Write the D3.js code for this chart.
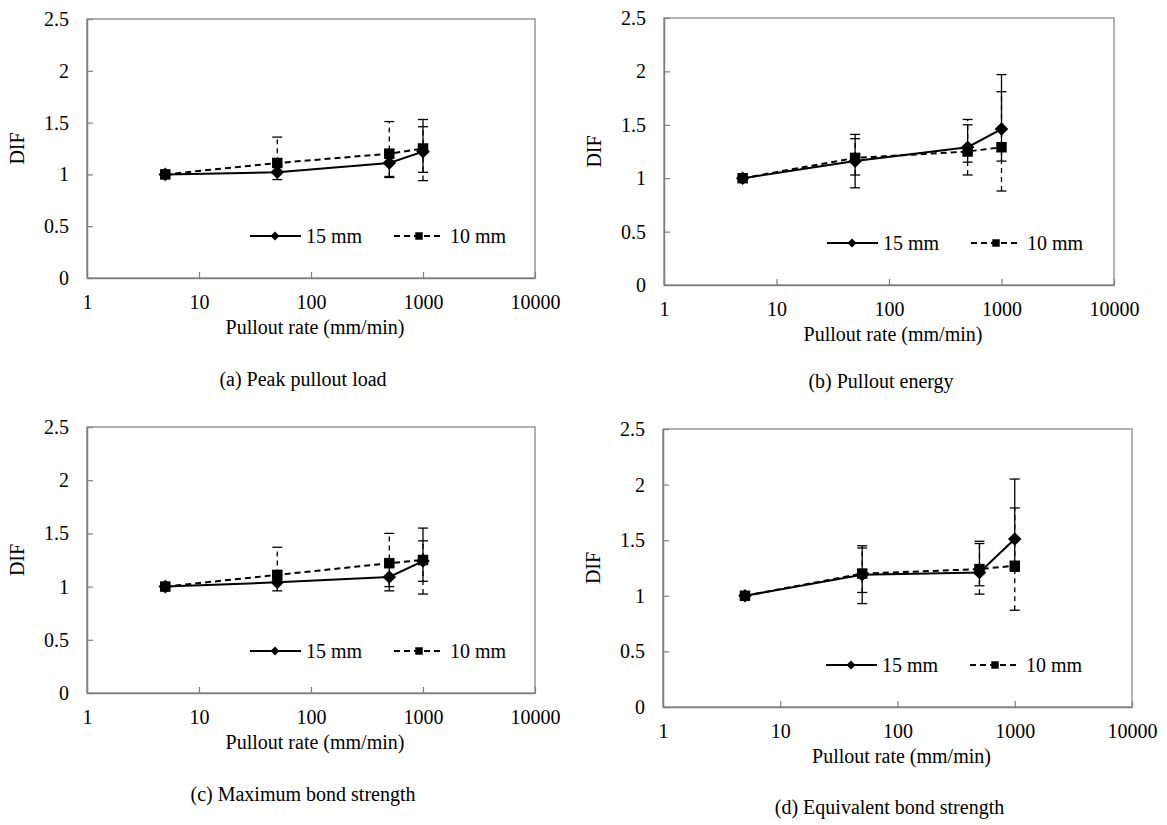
<!DOCTYPE html>
<html>
<head>
<meta charset="utf-8">
<script src="https://cdn.jsdelivr.net/npm/d3@7"></script>
<style>
  body { margin: 0; background: #fff; }
  text { font-family: "Liberation Serif", "Times New Roman", serif; fill: #000; }
</style>
</head>
<body>
<div id="chart"></div>
<script>
// pullout rates (mm/min)
var rates = [5, 50, 500, 1000];
var xTicks = [1, 10, 100, 1000, 10000];
var yTicks = [0, 0.5, 1, 1.5, 2, 2.5];
var seriesNames = ["15 mm", "10 mm"];

// (a) peak pullout load
var peak15 = [1.00, 1.02, 1.11, 1.22];
var peak15Lo = [1.00, 0.95, 0.98, 1.02];
var peak15Hi = [1.00, 1.09, 1.24, 1.53];
var peak10 = [1.00, 1.11, 1.20, 1.25];
var peak10Lo = [1.00, 1.03, 0.97, 0.94];
var peak10Hi = [1.00, 1.36, 1.51, 1.46];

// (b) pullout energy
var energy15 = [1.00, 1.16, 1.29, 1.46];
var energy15Lo = [1.00, 0.91, 1.15, 1.16];
var energy15Hi = [1.00, 1.41, 1.50, 1.97];
var energy10 = [1.00, 1.19, 1.25, 1.29];
var energy10Lo = [1.00, 1.03, 1.03, 0.88];
var energy10Hi = [1.00, 1.37, 1.55, 1.81];

// (c) maximum bond strength
var maxBond15 = [1.00, 1.04, 1.09, 1.24];
var maxBond15Lo = [1.00, 0.96, 0.96, 1.05];
var maxBond15Hi = [1.00, 1.11, 1.22, 1.55];
var maxBond10 = [1.00, 1.11, 1.22, 1.25];
var maxBond10Lo = [1.00, 1.03, 1.00, 0.93];
var maxBond10Hi = [1.00, 1.37, 1.50, 1.43];

// (d) equivalent bond strength
var eqBond15 = [1.00, 1.19, 1.21, 1.51];
var eqBond15Lo = [1.00, 0.93, 1.09, 1.22];
var eqBond15Hi = [1.00, 1.45, 1.47, 2.05];
var eqBond10 = [1.00, 1.20, 1.24, 1.27];
var eqBond10Lo = [1.00, 1.03, 1.015, 0.87];
var eqBond10Hi = [1.00, 1.43, 1.49, 1.79];

var captions = ["(a) Peak pullout load", "(b) Pullout energy",
  "(c) Maximum bond strength", "(d) Equivalent bond strength"];

// plot box of each panel (px)
var panels = [
  {left: 87, right: 535, top: 19, bottom: 278, capY: 380,
    s15: [peak15, peak15Lo, peak15Hi], s10: [peak10, peak10Lo, peak10Hi]},
  {left: 664, right: 1114, top: 18, bottom: 285, capY: 382,
    s15: [energy15, energy15Lo, energy15Hi], s10: [energy10, energy10Lo, energy10Hi]},
  {left: 87, right: 535, top: 427, bottom: 693, capY: 795,
    s15: [maxBond15, maxBond15Lo, maxBond15Hi], s10: [maxBond10, maxBond10Lo, maxBond10Hi]},
  {left: 663, right: 1132, top: 429, bottom: 707, capY: 808,
    s15: [eqBond15, eqBond15Lo, eqBond15Hi], s10: [eqBond10, eqBond10Lo, eqBond10Hi]}
];

var svg = d3.select("#chart").append("svg")
  .attr("width", 1167)
  .attr("height", 825);

var fontSize = 20;
var axisGray = "#7f7f7f";

function drawPanel(p, idx) {
  var g = svg.append("g");
  var x = d3.scaleLog().domain([1, 10000]).range([p.left, p.right]);
  var y = d3.scaleLinear().domain([0, 2.5]).range([p.bottom, p.top]);

  // frame
  g.append("rect")
    .attr("x", p.left).attr("y", p.top)
    .attr("width", p.right - p.left).attr("height", p.bottom - p.top)
    .attr("fill", "none").attr("stroke", axisGray).attr("stroke-width", 1.2);

  var xAxis = g.append("g")
    .attr("transform", `translate(0, ${p.bottom})`)
    .call(d3.axisBottom(x).tickValues(xTicks).tickFormat(d3.format("d"))
      .tickSizeInner(-6).tickSizeOuter(0).tickPadding(17));
  var yAxis = g.append("g")
    .attr("transform", `translate(${p.left}, 0)`)
    .call(d3.axisLeft(y).tickValues(yTicks).tickFormat(d => d)
      .tickSizeInner(-6).tickSizeOuter(0).tickPadding(18));
  [xAxis, yAxis].forEach(function(a) {
    a.select(".domain").attr("stroke", axisGray).attr("stroke-width", 1.5);
    a.selectAll(".tick line").attr("stroke", axisGray).attr("stroke-width", 1.2);
    a.selectAll(".tick text")
      .attr("font-family", "Liberation Serif")
      .attr("font-size", fontSize).attr("fill", "#000");
  });

  // axis titles
  g.append("text")
    .attr("x", (p.left + p.right) / 2 + 4)
    .attr("y", p.bottom + 56)
    .attr("text-anchor", "middle")
    .attr("font-size", fontSize)
    .text("Pullout rate (mm/min)");
  g.append("text")
    .attr("transform", `translate(${p.left - 63}, ${(p.top + p.bottom) / 2}) rotate(-90)`)
    .attr("text-anchor", "middle")
    .attr("font-size", fontSize)
    .text("DIF");

  // caption
  g.append("text")
    .attr("x", (p.left + p.right) / 2 - 8)
    .attr("y", p.capY + 6)
    .attr("text-anchor", "middle")
    .attr("font-size", fontSize)
    .text(captions[idx]);

  var series = [
    {vals: p.s10, dash: "6,4", marker: "square"},
    {vals: p.s15, dash: null, marker: "diamond"}
  ];

  series.forEach(function(s) {
    var pts = rates.map((r, i) => ({r: r, v: s.vals[0][i], lo: s.vals[1][i], hi: s.vals[2][i]}));

    // error bars
    var eb = g.append("g").attr("stroke", "#000").attr("stroke-width", 1.3);
    pts.filter(d => d.hi - d.lo > 0.001).forEach(function(d) {
      var cx = x(d.r);
      eb.append("line")
        .attr("x1", cx).attr("x2", cx)
        .attr("y1", y(d.lo)).attr("y2", y(d.hi))
        .attr("stroke-dasharray", s.dash ? "5,4" : null);
      [d.lo, d.hi].forEach(function(v) {
        eb.append("line")
          .attr("x1", cx - 5).attr("x2", cx + 5)
          .attr("y1", y(v)).attr("y2", y(v));
      });
    });

    // line
    g.append("path")
      .datum(pts)
      .attr("fill", "none")
      .attr("stroke", "#000")
      .attr("stroke-width", 2)
      .attr("stroke-dasharray", s.dash)
      .attr("d", d3.line().x(d => x(d.r)).y(d => y(d.v)));

    // markers
    g.selectAll(null)
      .data(pts)
      .enter()
      .append("path")
      .attr("d", d3.symbol().type(d3.symbolSquare).size(s.marker === "square" ? 110 : 92))
      .attr("transform", d => `translate(${x(d.r)}, ${y(d.v)})` + (s.marker === "diamond" ? " rotate(45)" : ""))
      .attr("fill", "#000");
  });

  // legend
  var ly = p.bottom - 42;
  var lx = p.left;
  g.append("line")
    .attr("x1", lx + 163).attr("x2", lx + 214)
    .attr("y1", ly).attr("y2", ly)
    .attr("stroke", "#000").attr("stroke-width", 2);
  g.append("path")
    .attr("d", d3.symbol().type(d3.symbolSquare).size(40))
    .attr("transform", `translate(${lx + 188}, ${ly}) rotate(45)`)
    .attr("fill", "#000");
  g.append("text")
    .attr("x", lx + 219).attr("y", ly)
    .attr("dy", "0.35em")
    .attr("font-size", fontSize)
    .text(seriesNames[0]);

  g.append("line")
    .attr("x1", lx + 307).attr("x2", lx + 355)
    .attr("y1", ly).attr("y2", ly)
    .attr("stroke", "#000").attr("stroke-width", 2)
    .attr("stroke-dasharray", "6,4");
  g.append("path")
    .attr("d", d3.symbol().type(d3.symbolSquare).size(56))
    .attr("transform", `translate(${lx + 332}, ${ly})`)
    .attr("fill", "#000");
  g.append("text")
    .attr("x", lx + 363).attr("y", ly)
    .attr("dy", "0.35em")
    .attr("font-size", fontSize)
    .text(seriesNames[1]);
}

panels.forEach(drawPanel);
</script>
</body>
</html>
